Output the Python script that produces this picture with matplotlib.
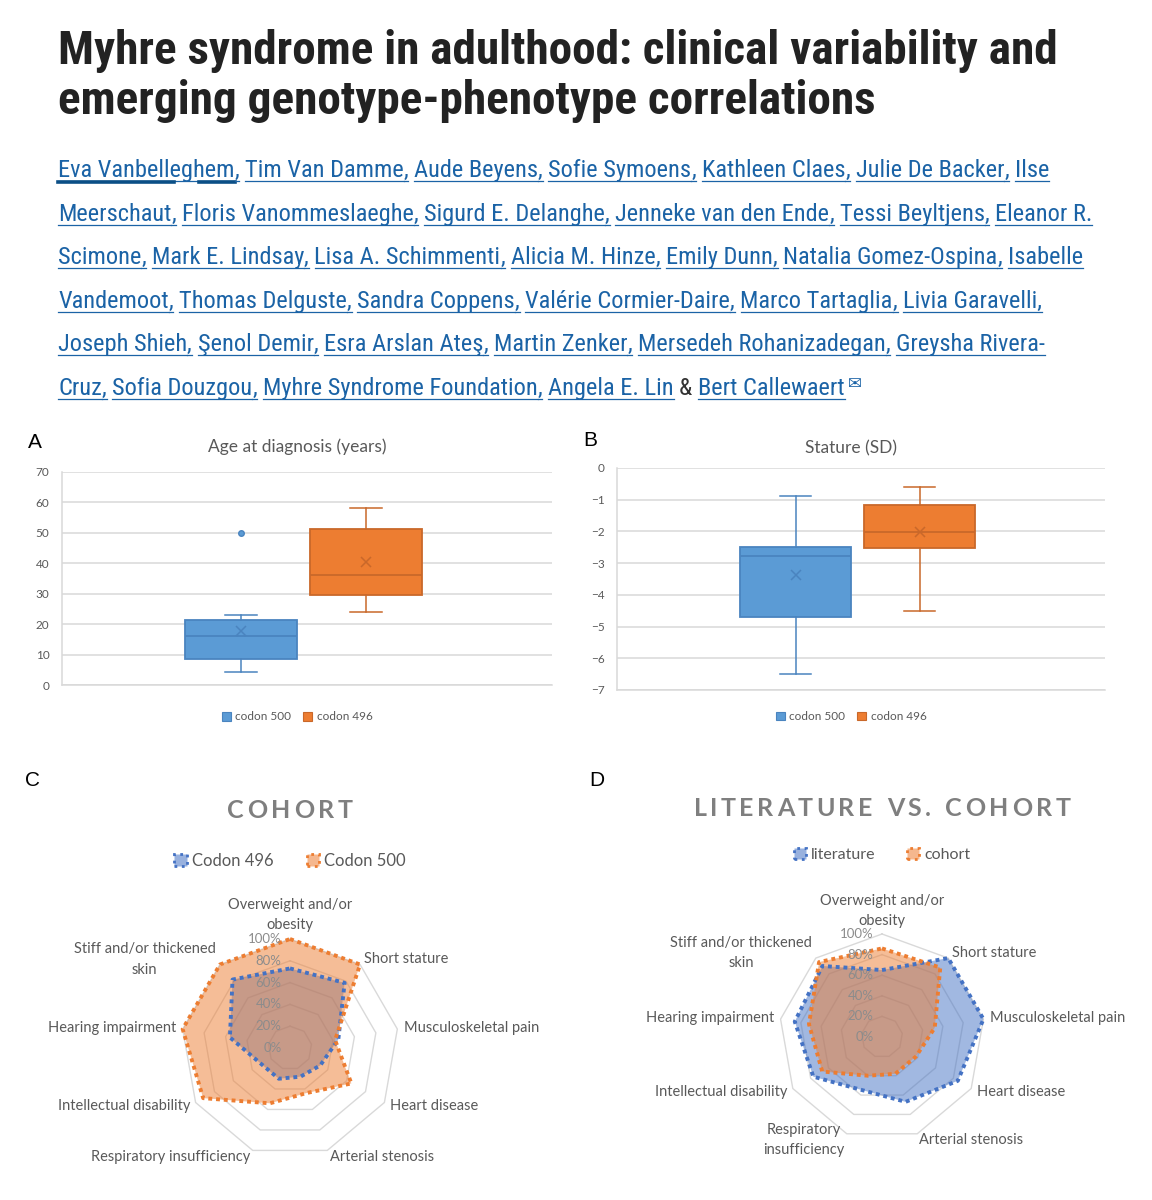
import re
import numpy as np
import matplotlib
matplotlib.use("Agg")
import matplotlib.pyplot as plt
from matplotlib.patches import Patch
from matplotlib.lines import Line2D
from matplotlib import font_manager
from matplotlib.font_manager import FontProperties

W, H = 1152, 1200

# ---------------- data ----------------
title_lines = ["Myhre syndrome in adulthood: clinical variability and",
               "emerging genotype-phenotype correlations"]
author_lines = [
    "Eva Vanbelleghem, Tim Van Damme, Aude Beyens, Sofie Symoens, Kathleen Claes, Julie De Backer, Ilse",
    "Meerschaut, Floris Vanommeslaeghe, Sigurd E. Delanghe, Jenneke van den Ende, Tessi Beyltjens, Eleanor R.",
    "Scimone, Mark E. Lindsay, Lisa A. Schimmenti, Alicia M. Hinze, Emily Dunn, Natalia Gomez-Ospina, Isabelle",
    "Vandemoot, Thomas Delguste, Sandra Coppens, Valérie Cormier-Daire, Marco Tartaglia, Livia Garavelli,",
    "Joseph Shieh, Şenol Demir, Esra Arslan Ateş, Martin Zenker, Mersedeh Rohanizadegan, Greysha Rivera-",
    "Cruz, Sofia Douzgou, Myhre Syndrome Foundation, Angela E. Lin & Bert Callewaert",
]

box_names = ["codon 500", "codon 496"]
# A: age at diagnosis (years)
age_low = [4.3, 24.0]
age_q1 = [8.7, 29.7]
age_med = [16.2, 36.2]
age_mean = [17.8, 40.5]
age_q3 = [21.2, 51.4]
age_high = [23.0, 58.3]
age_fliers = [[50.0], []]
# B: stature (SD)
sd_low = [-6.5, -4.5]
sd_q1 = [-4.69, -2.52]
sd_med = [-2.78, -2.03]
sd_mean = [-3.38, -2.03]
sd_q3 = [-2.49, -1.16]
sd_high = [-0.89, -0.59]
sd_fliers = [[], []]

cats_c = ["Overweight and/or\nobesity", "Short stature", "Musculoskeletal pain",
          "Heart disease", "Arterial stenosis", "Respiratory insufficiency",
          "Intellectual disability", "Hearing impairment", "Stiff and/or thickened\nskin"]
cats_d = ["Overweight and/or\nobesity", "Short stature", "Musculoskeletal pain",
          "Heart disease", "Arterial stenosis", "Respiratory\ninsufficiency",
          "Intellectual disability", "Hearing impairment", "Stiff and/or thickened\nskin"]
codon_496 = [0.73, 0.78, 0.45, 0.32, 0.28, 0.30, 0.30, 0.56, 0.82]
codon_500 = [1.00, 1.00, 0.42, 0.65, 0.44, 0.54, 0.92, 1.00, 1.00]
literature = [0.65, 1.00, 1.00, 0.85, 0.67, 0.55, 0.77, 0.86, 0.90]
cohort = [0.86, 0.88, 0.52, 0.38, 0.38, 0.40, 0.67, 0.72, 0.95]
r_ticks = [0, 0.2, 0.4, 0.6, 0.8, 1.0]

# ---------------- fonts / style ----------------
def weight_of(f):
    w = f.weight
    return w if isinstance(w, (int, float)) else font_manager.weight_dict.get(w, 400)


def narrow_font(bold):
    # look for an installed condensed sans face, header text is condensed
    prefs = ["Liberation Sans Narrow", "Roboto Condensed", "Open Sans Condensed",
             "Noto Sans", "DejaVu Sans", "Open Sans", "Roboto"]
    cands = []
    for f in font_manager.fontManager.ttflist:
        nm = f.fname.lower()
        if f.style != "normal" or "extra" in nm or "ultra" in nm or "mono" in nm:
            continue
        if not (f.stretch in ("condensed", "semi-condensed") or "narrow" in nm or "condensed" in nm):
            continue
        wt = weight_of(f)
        if bold and not 600 <= wt <= 750:
            continue
        if not bold and not 350 <= wt <= 450:
            continue
        rank = prefs.index(f.name) if f.name in prefs else len(prefs)
        cands.append((rank, f.fname))
    if cands:
        return FontProperties(fname=sorted(cands)[0][1])
    return FontProperties(family="Liberation Sans", weight="bold" if bold else "normal")


head_bold = narrow_font(True)
head_reg = narrow_font(False)
lbl_font = "Lato"
link_col = "#1b63a6"
grey = "#595959"
grid_col = "#d9d9d9"
box_fill = ["#5b9bd5", "#ed7d31"]
box_edge = ["#4a84bf", "#c9682a"]
rad_blue = "#4472c4"
rad_orange = "#ed7d31"

fig = plt.figure(figsize=(W / 100, H / 100), dpi=100)
renderer = fig.canvas.get_renderer()


def text_w(s, **kw):
    t = fig.text(0, 0, s, **kw)
    w = t.get_window_extent(renderer).width
    t.remove()
    return w


def fy(y):
    return 1 - y / H


def fp(base, size):
    p = base.copy()
    p.set_size(size)
    return p


# ---------------- header ----------------
tsize = 20 * 1000 / text_w(title_lines[0], fontproperties=fp(head_bold, 20))
for i, line in enumerate(title_lines):
    fig.text(58 / W, fy(64 + 50 * i), line, fontproperties=fp(head_bold, tsize),
             color="#222222", va="baseline")

asize = 14 * 1042 / text_w(author_lines[1], fontproperties=fp(head_reg, 14))
afp = fp(head_reg, asize)
sw = text_w("a a", fontproperties=afp) - text_w("aa", fontproperties=afp)

for row, line in enumerate(author_lines):
    y = 177 + 43.6 * row
    x = 58.0
    first = True
    for tok in re.split(r"(, | & )", line):
        if not tok:
            continue
        if tok == " & ":
            x += sw
            t = fig.text(x / W, fy(y), "&", color="#333333", va="baseline", fontproperties=afp)
            x += t.get_window_extent(renderer).width + sw
            continue
        s = "," if tok == ", " else tok
        t = fig.text(x / W, fy(y), s, color=link_col, va="baseline", fontproperties=afp)
        w = t.get_window_extent(renderer).width
        fig.add_artist(Line2D([x / W, (x + w) / W], [fy(y + 4)] * 2, color=link_col, lw=0.9))
        if row == 0 and first:
            # highlighted first author
            fig.add_artist(Line2D([x / W, (x + 0.66 * w) / W], [fy(y + 5)] * 2, color="#0b4f86", lw=2.6))
            fig.add_artist(Line2D([(x + 0.8 * w) / W, (x + w) / W], [fy(y + 5)] * 2, color="#0b4f86", lw=2.6))
        first = False
        x += w + (sw if tok == ", " else 0)
    if row == len(author_lines) - 1:
        fig.text((x + 3) / W, fy(y - 6), "\u2709", family="DejaVu Sans", fontsize=12,
                 color=link_col, va="baseline")

# ---------------- panel letters ----------------
for lab, (px, py) in zip("ABCD", [(35, 443), (590, 440), (32, 780), (597, 780)]):
    fig.text(px / W, fy(py), lab, fontsize=15, family="Liberation Sans", ha="center", va="center")


# ---------------- box plots ----------------
def box_panel(rect, low, q1, med, mean, q3, high, fliers, ylim, yticks, title, title_y, leg_y):
    ax = fig.add_axes(rect)
    for i in range(2):
        st = dict(whislo=low[i], q1=q1[i], med=med[i], mean=mean[i], q3=q3[i],
                  whishi=high[i], fliers=fliers[i], label=box_names[i])
        ax.bxp([st], positions=[[0.366, 0.62][i]], widths=0.228, capwidths=0.065,
               patch_artist=True, showmeans=True, manage_ticks=False,
               boxprops=dict(facecolor=box_fill[i], edgecolor=box_edge[i], lw=1.3),
               whiskerprops=dict(color=box_edge[i], lw=1.1),
               capprops=dict(color=box_edge[i], lw=1.1),
               medianprops=dict(color=box_edge[i], lw=1.3),
               meanprops=dict(marker="x", markeredgecolor=box_edge[i], markersize=7, mew=1.1),
               flierprops=dict(marker="o", markerfacecolor=box_fill[i], markeredgecolor=box_edge[i],
                               markersize=4))
    ax.set_xlim(0, 1)
    ax.set_ylim(*ylim)
    ax.set_yticks(yticks)
    ax.set_xticks([])
    ax.grid(axis="y", color=grid_col, lw=1.1)
    ax.set_axisbelow(True)
    for s in ["top", "right"]:
        ax.spines[s].set_visible(False)
    for s in ["left", "bottom"]:
        ax.spines[s].set_color(grid_col)
        ax.spines[s].set_linewidth(1.1)
    ax.tick_params(axis="y", length=0, pad=9, labelsize=8.5, labelcolor=grey)
    for lab in ax.get_yticklabels():
        lab.set_family(lbl_font)
    ax.text(0.48, title_y, title, transform=ax.transAxes, ha="center", va="center",
            fontsize=12.5, color=grey, family=lbl_font)
    handles = [Patch(facecolor=box_fill[i], edgecolor=box_edge[i], lw=0.8) for i in range(2)]
    ax.legend(handles, box_names, loc="center", bbox_to_anchor=(0.48, leg_y), ncol=2,
              frameon=False, handlelength=0.75, handleheight=0.75, handletextpad=0.4,
              columnspacing=1.0, prop=dict(family=lbl_font, size=8.5), labelcolor=grey)
    return ax


box_panel([62 / W, fy(685), 490 / W, 213 / H], age_low, age_q1, age_med, age_mean, age_q3,
          age_high, age_fliers, (0, 70), range(0, 71, 10), "Age at diagnosis (years)", 1.12, -0.15)
box_panel([617 / W, fy(690), 488 / W, 222 / H], sd_low, sd_q1, sd_med, sd_mean, sd_q3,
          sd_high, sd_fliers, (-7, 0), range(-7, 1), "Stature (SD)", 1.09, -0.12)


# ---------------- radar charts ----------------
def spaced_text(cx, y, s, size, gap, **kw):
    ws = [text_w(c, fontsize=size, **kw) if c != " " else 0.3 * size * 1.39 for c in s]
    x = cx - (sum(ws) + gap * (len(s) - 1)) / 2
    for c, w in zip(s, ws):
        fig.text(x / W, fy(y), c, fontsize=size, va="center", **kw)
        x += w + gap


def radar(cx, cy, R, cats, series, colors, names, title, title_y, legend_y, legend_size):
    ax = fig.add_axes([(cx - R) / W, fy(cy + R), 2 * R / W, 2 * R / H], projection="polar")
    ax.set_theta_zero_location("N")
    ax.set_theta_direction(-1)
    ax.set_ylim(0, 1)
    ax.set_xticks([])
    ax.set_yticks([])
    ax.grid(False)
    ax.spines["polar"].set_visible(False)
    ax.patch.set_alpha(0)
    n = len(cats)
    th = np.linspace(0, 2 * np.pi, n, endpoint=False)
    thc = np.append(th, th[0])
    for r in r_ticks[1:]:
        ax.plot(thc, [r] * (n + 1), color=grid_col, lw=1.0, zorder=1, clip_on=False)
    for vals, c in zip(series, colors):
        v = np.append(vals, vals[0])
        ax.fill(thc, v, color=c, alpha=0.5, lw=0, zorder=2, clip_on=False)
        ax.plot(thc, v, color=c, lw=2.8, ls=(0, (1, 1)), dash_capstyle="butt", zorder=3,
                clip_on=False)
    for r in r_ticks:
        ax.annotate(f"{int(round(r * 100))}%", xy=(0, r), xytext=(-6, 0), textcoords="offset points",
                    ha="right", va="center", fontsize=9.5, color="#8c8c8c", family=lbl_font,
                    annotation_clip=False, zorder=4)
    for t, lab in zip(th, cats):
        s, c = np.sin(t), np.cos(t)
        ha = "left" if s > 0.1 else ("right" if s < -0.1 else "center")
        va = "bottom" if c > 0.95 else "center"
        ax.text(t, 1.06, lab, ha=ha, va=va, multialignment="center", fontsize=10.5,
                linespacing=1.55, color=grey, family=lbl_font)
    spaced_text(cx, title_y, title, 18, 3.5, color="#7f7f7f", weight="bold", family=lbl_font)
    handles = [Patch(facecolor=(c, 0.55), edgecolor=c, lw=2, ls=":") for c in colors]
    fig.legend(handles, names, loc="center", bbox_to_anchor=(cx / W, fy(legend_y)), ncol=2,
               frameon=False, handlelength=0.75, handleheight=0.75, handletextpad=0.3,
               columnspacing=2.0, prop=dict(family=lbl_font, size=legend_size), labelcolor=grey)


radar(290, 1048, 109, cats_c, [codon_496, codon_500], [rad_blue, rad_orange],
      ["Codon 496", "Codon 500"], "COHORT", 810, 861, 12)
radar(882, 1037, 103, cats_d, [literature, cohort], [rad_blue, rad_orange],
      ["literature", "cohort"], "LITERATURE VS. COHORT", 808, 855, 11.5)

fig.savefig("out.png", dpi=100)
